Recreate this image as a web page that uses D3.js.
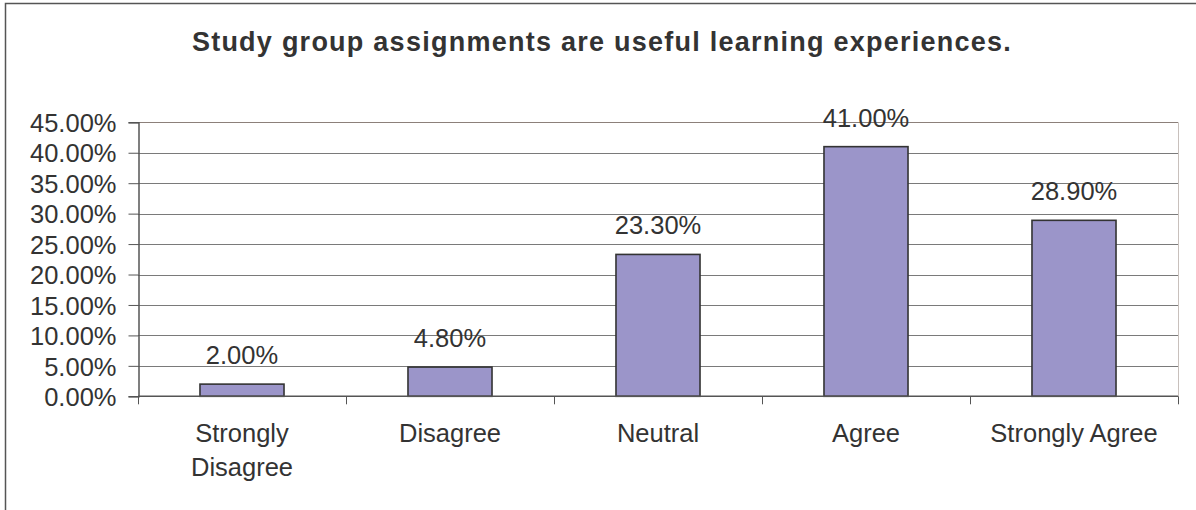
<!DOCTYPE html>
<html>
<head>
<meta charset="utf-8">
<script src="https://cdn.jsdelivr.net/npm/d3@7/dist/d3.min.js"></script>
<style>
  html, body { margin: 0; padding: 0; background: #fff; }
  svg { display: block; font-family: "Liberation Sans", Arial, sans-serif; }
</style>
</head>
<body>
<svg id="chart" width="1196" height="510"></svg>
<script>
// Survey responses
const title = "Study group assignments are useful learning experiences.";
const categories = ["Strongly Disagree", "Disagree", "Neutral", "Agree", "Strongly Agree"];
const categoryLines = [["Strongly", "Disagree"], ["Disagree"], ["Neutral"], ["Agree"], ["Strongly Agree"]];
const shares = [0.020, 0.048, 0.233, 0.410, 0.289];
const yTicks = [0, 0.05, 0.10, 0.15, 0.20, 0.25, 0.30, 0.35, 0.40, 0.45];

const svg = d3.select("#chart");
const textColor = "#333333";

const plot = { left: 138, right: 1178, top: 122.3, bottom: 396.3 };

// Outer chart frame
svg.append("rect")
  .attr("x", 5.5).attr("y", 3.5)
  .attr("width", 1300).attr("height", 600)
  .attr("fill", "none").attr("stroke", "#555").attr("stroke-width", 1.5);

svg.append("text")
  .attr("x", 602).attr("y", 51)
  .attr("text-anchor", "middle")
  .attr("font-size", 27).attr("font-weight", "bold")
  .attr("letter-spacing", 1.25)
  .attr("fill", textColor)
  .text(title);

const x = d3.scaleBand()
  .domain(categories)
  .range([plot.left, plot.right])
  .paddingInner(0.596)
  .paddingOuter(0.298);

const y = d3.scaleLinear()
  .domain([0, 0.45])
  .range([plot.bottom, plot.top]);

// Horizontal gridlines
svg.append("g")
  .selectAll("line")
  .data(yTicks.slice(1))
  .join("line")
  .attr("x1", plot.left).attr("x2", plot.right)
  .attr("y1", d => Math.round(y(d)) + 0.5).attr("y2", d => Math.round(y(d)) + 0.5)
  .attr("stroke", d => d === 0.45 ? "#8c807a" : "#7a7a7a")
  .attr("stroke-width", 1);

// Right edge of plot area
svg.append("line")
  .attr("x1", plot.right + 0.5).attr("x2", plot.right + 0.5)
  .attr("y1", y(0.45)).attr("y2", y(0))
  .attr("stroke", "#c8c0bc").attr("stroke-width", 1);

// Y axis
const yAxis = svg.append("g")
  .attr("transform", `translate(${plot.left + 0.5},0)`)
  .call(d3.axisLeft(y).tickValues(yTicks).tickFormat(d3.format(".2%")).tickSize(10).tickPadding(12));
yAxis.select(".domain").attr("stroke", "#555").attr("stroke-width", 1.5);
yAxis.selectAll(".tick line").attr("stroke", "#555");
yAxis.selectAll(".tick text")
  .attr("font-size", 25.5).attr("fill", textColor)
  .attr("font-family", "Liberation Sans, Arial, sans-serif")
  .attr("dy", "0.36em");

// Bars
const barW = x.bandwidth();
svg.append("g")
  .selectAll("rect")
  .data(categories)
  .join("rect")
  .attr("x", d => x(d))
  .attr("y", (d, i) => y(shares[i]))
  .attr("width", barW)
  .attr("height", (d, i) => y(0) - y(shares[i]))
  .attr("fill", "#9b95c9")
  .attr("stroke", "#333")
  .attr("stroke-width", 1.6);

// X axis line and category boundary ticks
const step = x.step();
const edge = (step - barW) / 2;
const bounds = categories.map(d => x(d) - edge).concat([x(categories[categories.length - 1]) + barW + edge]);
svg.append("line")
  .attr("x1", plot.left).attr("x2", plot.right)
  .attr("y1", y(0)).attr("y2", y(0))
  .attr("stroke", "#555").attr("stroke-width", 1.5);
svg.append("g")
  .selectAll("line")
  .data(bounds)
  .join("line")
  .attr("x1", d => Math.round(d) + 0.5).attr("x2", d => Math.round(d) + 0.5)
  .attr("y1", y(0)).attr("y2", y(0) + 8)
  .attr("stroke", "#555").attr("stroke-width", 1);

// Value labels
svg.append("g")
  .selectAll("text")
  .data(categories)
  .join("text")
  .attr("x", d => x(d) + barW / 2)
  .attr("y", (d, i) => y(shares[i]) - 20)
  .attr("text-anchor", "middle")
  .attr("font-size", 25.5).attr("fill", textColor)
  .text((d, i) => d3.format(".2%")(shares[i]));

// Category labels
const catG = svg.append("g");
categories.forEach((c, i) => {
  const t = catG.append("text")
    .attr("x", x(c) + barW / 2)
    .attr("y", 442)
    .attr("text-anchor", "middle")
    .attr("font-size", 25.5).attr("fill", textColor);
  categoryLines[i].forEach((line, j) => {
    t.append("tspan").attr("x", x(c) + barW / 2).attr("dy", j === 0 ? 0 : 34).text(line);
  });
});
</script>
</body>
</html>
